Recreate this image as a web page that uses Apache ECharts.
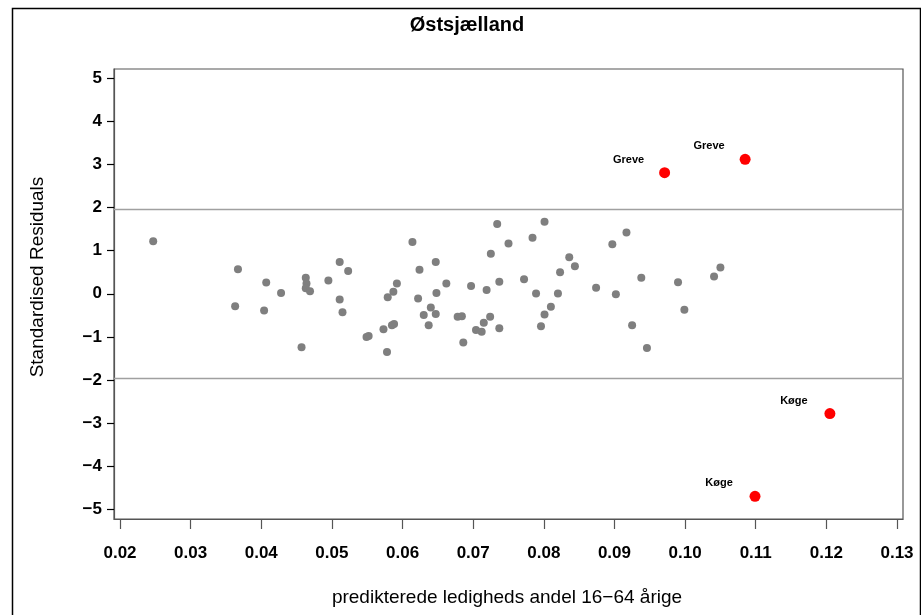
<!DOCTYPE html>
<html><head><meta charset="utf-8">
<script src="https://cdn.jsdelivr.net/npm/echarts@6/dist/echarts.min.js"></script>
<style>html,body{margin:0;padding:0;background:#fff}#c{width:921px;height:615px}</style>
</head><body><div id="c"></div>
<script>
const titleText = 'Østsjælland';
const xAxisName = 'predikterede ledigheds andel 16\u221264 årige';
const yAxisName = 'Standardised Residuals';
const xTicks = [0.02,0.03,0.04,0.05,0.06,0.07,0.08,0.09,0.10,0.11,0.12,0.13];
const yTicks = [-5,-4,-3,-2,-1,0,1,2,3,4,5];
const refLines = [1.96, -1.96];

const greyX = [0.0247,0.0367,0.0407,0.0428,0.0363,0.0404,0.0457,0.0614,0.0511,0.0647,
  0.0523,0.0624,0.0463,0.0495,0.0464,0.0592,0.0662,0.0697,0.0463,0.0469,
  0.0719,0.0587,0.0648,0.0579,0.0622,0.0511,0.0725,0.0640,0.0515,0.0630,
  0.0647,0.0678,0.0684,0.0724,0.0715,0.0637,0.0588,0.0585,0.0573,0.0704,
  0.0712,0.0552,0.0549,0.0686,0.0578,0.0734,0.0801,0.0784,0.0750,0.0917,
  0.0897,0.0836,0.0844,0.0823,0.1050,0.1041,0.0772,0.0737,0.0938,0.0990,
  0.0874,0.0789,0.0820,0.0902,0.0810,0.0999,0.0801,0.0737,0.0796,0.0925,0.0946];
const greyY = [1.22,0.57,0.26,0.02,-0.29,-0.39,-1.24,1.20,0.74,0.74,
  0.53,0.56,0.37,0.31,0.24,0.24,0.24,0.18,0.13,0.06,
  0.09,0.05,0.02,-0.08,-0.11,-0.13,0.93,-0.32,-0.43,-0.49,
  -0.47,-0.53,-0.52,-0.53,-0.67,-0.73,-0.70,-0.73,-0.82,-0.84,
  -0.88,-0.98,-1.00,-1.13,-1.35,1.62,1.67,1.30,1.17,1.42,
  1.15,0.85,0.64,0.50,0.61,0.40,0.34,0.28,0.37,0.27,
  0.14,0.01,0.01,-0.01,-0.30,-0.37,-0.48,-0.80,-0.75,-0.73,-1.26];

const outlierNames = ['Greve','Greve','Køge','Køge'];
const outlierX = [0.0971,0.1085,0.1205,0.1099];
const outlierY = [2.81,3.12,-2.78,-4.70];

const greyData = greyX.map((x,i)=>[x,greyY[i]]);
const redData = outlierX.map((x,i)=>({name:outlierNames[i], value:[x,outlierY[i]]}));

const fontFam = '"Liberation Sans", Arial, sans-serif';
const fmtMinus = v => (v<0 ? '\u2212' + Math.abs(v) : String(v));

const chart = echarts.init(document.getElementById('c'), null, {renderer:'canvas'});
chart.setOption({
  animation:false,
  backgroundColor:'#fff',
  grid:{left:114, top:69, right:18, bottom:96, show:true, borderColor:'#555', borderWidth:1.2, backgroundColor:'transparent'},
  xAxis:{type:'value', min:0.01915, max:0.13085,
    axisLine:{show:true, onZero:false, lineStyle:{color:'#555', width:1.2}},
    axisTick:{show:true, length:10, customValues:xTicks, lineStyle:{color:'#555', width:1.2}},
    axisLabel:{show:true, customValues:xTicks, margin:26, color:'#000', fontFamily:fontFam, fontWeight:'bold', fontSize:17,
      formatter:v=>v.toFixed(2)},
    splitLine:{show:false}},
  yAxis:{type:'value', min:-5.225, max:5.216,
    axisLine:{show:true, onZero:false, lineStyle:{color:'#555', width:1.2}},
    axisTick:{show:true, length:7, customValues:yTicks, lineStyle:{color:'#000', width:1.2}},
    axisLabel:{show:true, customValues:yTicks, margin:12, color:'#000', fontFamily:fontFam, fontWeight:'bold', fontSize:17,
      formatter:v=>fmtMinus(Math.round(v))},
    splitLine:{show:false}},
  series:[
    {type:'scatter', data:greyData, symbol:'circle', symbolSize:8,
      itemStyle:{color:'#7f7f7f', opacity:1}, z:3,
      markLine:{silent:true, symbol:'none', label:{show:false},
        lineStyle:{color:'#a0a0a0', width:1.3, type:'solid'},
        data:refLines.map(v=>({yAxis:v}))}},
    {type:'scatter', data:redData, symbol:'circle', symbolSize:11,
      itemStyle:{color:'#ff0000', opacity:1}, z:4,
      label:{show:true, formatter:p=>p.name, position:[-30.5,-7.5], align:'center', verticalAlign:'middle',
        color:'#000', fontFamily:fontFam, fontWeight:'bold', fontSize:11}}
  ],
  graphic:[
    {type:'rect', left:10, top:6, shape:{width:908, height:640}, style:{fill:'none', stroke:'#000', lineWidth:1.5}, silent:true, z:-1},
    {type:'text', x:467, y:25, style:{text:titleText, fontFamily:fontFam, fontWeight:'bold', fontSize:20, fill:'#000', align:'center', verticalAlign:'middle'}},
    {type:'text', x:507, y:598, style:{text:xAxisName, fontFamily:fontFam, fontSize:19, fill:'#000', align:'center', verticalAlign:'middle'}},
    {type:'text', x:38, y:277, rotation:Math.PI/2, style:{text:yAxisName, fontFamily:fontFam, fontSize:19, fill:'#000', align:'center', verticalAlign:'middle'}}
  ]
});
</script></body></html>
